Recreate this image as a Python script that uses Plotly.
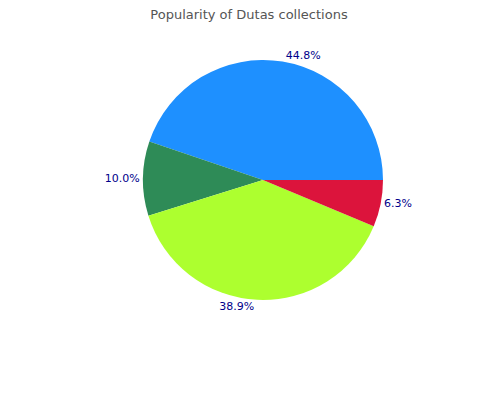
import plotly.graph_objects as go

collections = ["Collection A", "Collection B", "Collection C", "Collection D"]
shares = [44.8, 10.0, 38.9, 6.3]
colors = ["#1E90FF", "#2E8B57", "#ADFF2F", "#DC143C"]

# plotly's counterclockwise pie ends the first slice at `rotation`,
# so shift it to make the first slice start at 3 o'clock
start = 90 - shares[0] / sum(shares) * 360

fig = go.Figure(
    go.Pie(
        labels=collections,
        values=shares,
        marker=dict(colors=colors, line=dict(width=0)),
        sort=False,
        direction="counterclockwise",
        rotation=start,
        texttemplate="%{percent:.1%}",
        textposition="outside",
        textfont=dict(color="#00008B", size=11, family="DejaVu Sans"),
        showlegend=False,
    )
)

fig.update_layout(
    width=500,
    height=400,
    title=dict(
        text="Popularity of Dutas collections",
        x=0.482,
        xanchor="center",
        y=0.995,
        yanchor="top",
        font=dict(size=13, color="#555555", family="DejaVu Sans"),
    ),
    margin=dict(l=24, r=24, t=52, b=108),
    paper_bgcolor="white",
)

fig.write_html("out.html")
